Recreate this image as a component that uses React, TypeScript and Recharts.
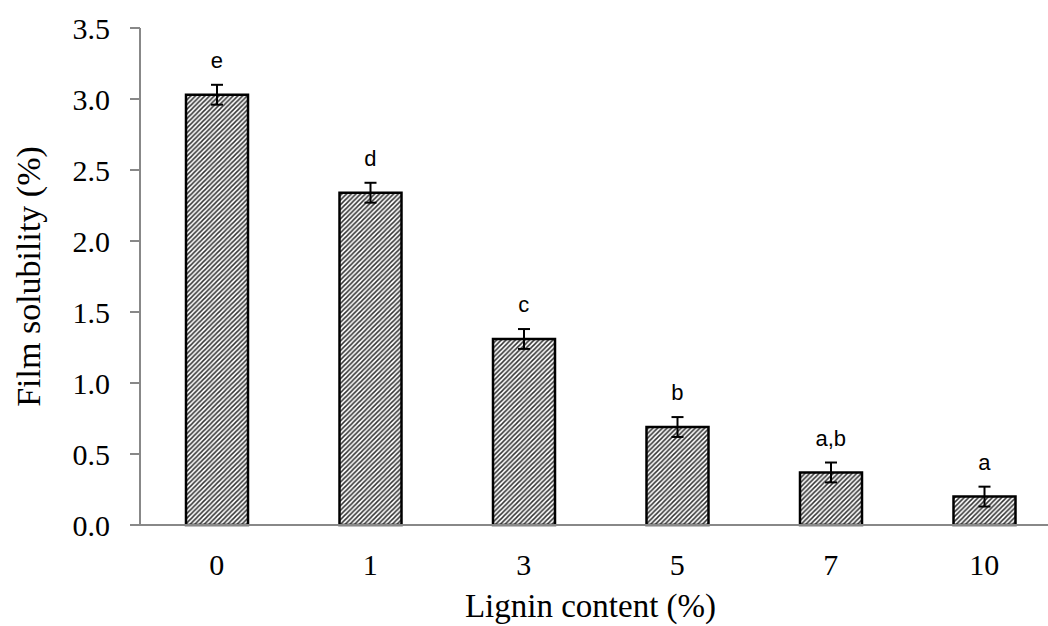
import React from 'react';
import { ComposedChart, Bar, Line, XAxis, YAxis, ErrorBar, LabelList, Label } from 'recharts';

const categories = ['0', '1', '3', '5', '7', '10'];
const solubility = [3.03, 2.34, 1.31, 0.69, 0.37, 0.2];
const errors = [0.07, 0.07, 0.07, 0.07, 0.07, 0.07];
const letters = ['e', 'd', 'c', 'b', 'a,b', 'a'];
const yTicks = [0, 0.5, 1.0, 1.5, 2.0, 2.5, 3.0, 3.5];

const data = categories.map((c, i) => ({
  cat: c,
  value: solubility[i],
  err: errors[i],
  top: solubility[i] + errors[i],
  letter: letters[i],
}));

const SERIF = '"Liberation Serif", "Times New Roman", serif';
const SANS = '"Liberation Sans", Arial, sans-serif';

const YTitle = (props: any) => {
  const vb = props.viewBox || {};
  const cx = 28;
  const cy = vb.y + vb.height / 2;
  return (
    <text
      x={cx}
      y={cy}
      transform={`rotate(-90, ${cx}, ${cy})`}
      textAnchor="middle"
      dominantBaseline="central"
      fontFamily={SERIF}
      fontSize={34}
      fill="#000"
    >
      Film solubility (%)
    </text>
  );
};

export default function App() {
  const h = 4.7;
  return (
    <div style={{ position: 'absolute', left: 0, top: 0, width: 1048, height: 626, overflow: 'hidden', background: '#fff' }}>
      <ComposedChart width={1070} height={626} data={data} margin={{ top: 28, right: 9, bottom: 0, left: 0 }}>
        <defs>
          <pattern id="hatch" patternUnits="userSpaceOnUse" width={h} height={h}>
            <rect x={0} y={0} width={h} height={h} fill="#fff" />
            <path
              d={`M0,${h} L${h},0 M${-h / 2},${h / 2} L${h / 2},${-h / 2} M${h / 2},${h * 1.5} L${h * 1.5},${h / 2}`}
              stroke="#333"
              strokeWidth={1.5}
            />
          </pattern>
        </defs>
        <XAxis
          dataKey="cat"
          height={101}
          tickLine={false}
          tickSize={0}
          tickMargin={29}
          axisLine={{ stroke: '#888', strokeWidth: 2 }}
          tick={{ fontFamily: SERIF, fontSize: 30, fill: '#000' }}
        >
          <Label
            value="Lignin content (%)"
            position="insideBottom"
            offset={9}
            dx={-10}
            style={{ fontFamily: SERIF, fontSize: 33, fill: '#000' }}
          />
        </XAxis>
        <YAxis
          width={140}
          domain={[0, 3.5]}
          ticks={yTicks}
          interval={0}
          tickFormatter={(v: number) => v.toFixed(1)}
          tickSize={10}
          tickMargin={20}
          tickLine={{ stroke: '#888', strokeWidth: 2 }}
          axisLine={{ stroke: '#888', strokeWidth: 2 }}
          tick={{ fontFamily: SERIF, fontSize: 30, fill: '#000' }}
        >
          <Label content={YTitle} />
        </YAxis>
        <Bar dataKey="value" barSize={62} fill="url(#hatch)" stroke="#000" strokeWidth={2.5} isAnimationActive={false}>
          <ErrorBar dataKey="err" width={6} stroke="#000" strokeWidth={2} />
        </Bar>
        <Line dataKey="top" stroke="none" dot={false} activeDot={false} legendType="none" isAnimationActive={false}>
          <LabelList
            dataKey="letter"
            position="top"
            offset={17}
            style={{ fontFamily: SANS, fontSize: 22, fill: '#000' }}
          />
        </Line>
      </ComposedChart>
    </div>
  );
}
